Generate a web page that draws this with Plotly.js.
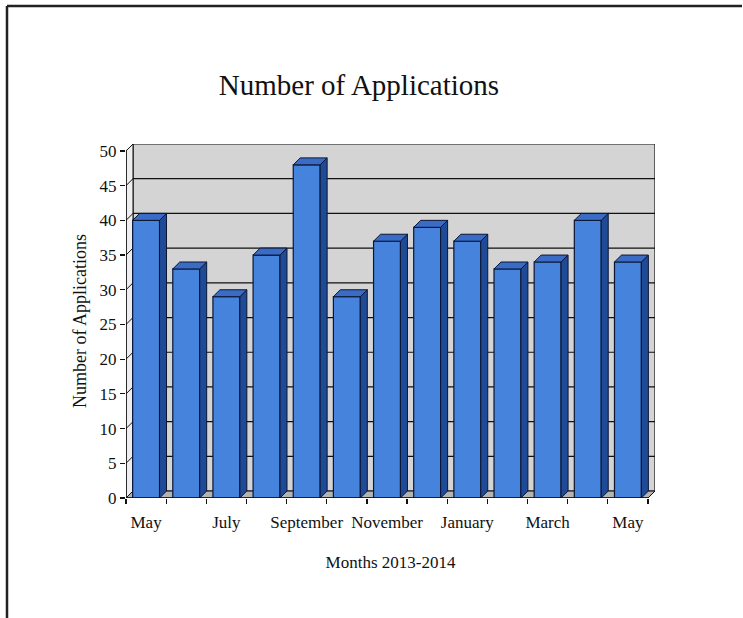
<!DOCTYPE html>
<html>
<head>
<meta charset="utf-8">
<script src="https://cdn.plot.ly/plotly-3.0.1.min.js"></script>
<style>html,body{margin:0;padding:0;background:#fff;}#chart{width:743px;height:618px;}</style>
</head>
<body>
<div id="chart"></div>
<script>
// ---- data ----
const months = ['May','June','July','August','September','October','November','December','January','February','March','April','May'];
const applications = [40, 33, 29, 35, 48, 29, 37, 39, 37, 33, 34, 40, 34];
const tickLabels = ['May','July','September','November','January','March','May'];
const tickIndex = [0, 2, 4, 6, 8, 10, 12];
const yTicks = [0, 5, 10, 15, 20, 25, 30, 35, 40, 45, 50];

// ---- geometry of the pseudo-3D look ----
const W = 743, H = 618;
const M = {l: 126, r: 88, t: 144, b: 120};
const n = months.length;
const yMax = 50;
const pxX = (W - M.l - M.r);
const depthPx = 7;
const dy = 1.0;                         // depth in y units
const xs = months.map((_, i) => i);
const barW = 0.67;
const xLo = -0.5, xHi = n - 0.5;
const dx = depthPx * (xHi - xLo) / (pxX - depthPx);   // depth in x units
const yTop = yMax + dy;

const frontColor = '#4583dc';
const sideColor = '#1f4a96';
const topColor = '#3a6cc6';
const edge = '#0b1633';
const wallColor = '#d4d4d4';

function poly(pts){ return 'M ' + pts.map(p => p[0] + ',' + p[1]).join(' L ') + ' Z'; }

const shapes = [];
// back wall
shapes.push({type:'path', layer:'below', xref:'x', yref:'y',
  path: poly([[xLo+dx, dy],[xHi+dx, dy],[xHi+dx, yTop],[xLo+dx, yTop]]),
  fillcolor: wallColor, line:{color:'#111', width:1.2}});
// left wall
shapes.push({type:'path', layer:'below', xref:'x', yref:'y',
  path: poly([[xLo, 0],[xLo+dx, dy],[xLo+dx, yTop],[xLo, yMax]]),
  fillcolor: '#eeeeee', line:{color:'#111', width:1}});
// floor
shapes.push({type:'path', layer:'below', xref:'x', yref:'y',
  path: poly([[xLo, 0],[xHi, 0],[xHi+dx, dy],[xLo+dx, dy]]),
  fillcolor: '#b4b4b4', line:{color:'#111', width:1}});
// gridlines on back and left walls
yTicks.filter(v => v > 0 && v < yMax).forEach(v => {
  shapes.push({type:'line', layer:'below', xref:'x', yref:'y',
    x0: xLo+dx, x1: xHi+dx, y0: v+dy, y1: v+dy, line:{color:'#111', width:1.2}});
  shapes.push({type:'line', layer:'below', xref:'x', yref:'y',
    x0: xLo, x1: xLo+dx, y0: v, y1: v+dy, line:{color:'#111', width:1}});
});
// side and top faces of the bars
xs.forEach((x, i) => {
  const v = applications[i];
  const a = x - barW/2, b = x + barW/2;
  shapes.push({type:'path', layer:'above', xref:'x', yref:'y',
    path: poly([[b, 0],[b+dx, dy],[b+dx, v+dy],[b, v]]),
    fillcolor: sideColor, line:{color:edge, width:1}});
  shapes.push({type:'path', layer:'above', xref:'x', yref:'y',
    path: poly([[a, v],[b, v],[b+dx, v+dy],[a+dx, v+dy]]),
    fillcolor: topColor, line:{color:edge, width:1}});
});
// axis lines
shapes.push({type:'line', layer:'above', xref:'x', yref:'y',
  x0: xLo, x1: xLo, y0: 0, y1: yMax, line:{color:'#111', width:1.5}});
shapes.push({type:'line', layer:'above', xref:'x', yref:'y',
  x0: xLo, x1: xHi, y0: 0, y1: 0, line:{color:'#111', width:1.5}});

// page frame (top and left edges of a scanned box)
const plotH = H - M.t - M.b;
const px2paperX = p => (p - M.l) / pxX;
const px2paperY = p => (H - M.b - p) / plotH;
shapes.push({type:'line', xref:'paper', yref:'paper',
  x0: px2paperX(7), x1: px2paperX(W - 1), y0: px2paperY(6), y1: px2paperY(6), line:{color:'#222', width:2.5}});
shapes.push({type:'line', xref:'paper', yref:'paper',
  x0: px2paperX(7), x1: px2paperX(7), y0: px2paperY(6), y1: px2paperY(H), line:{color:'#222', width:2.5}});

const serif = 'Liberation Serif, Times New Roman, serif';

const trace = {
  type: 'bar', x: xs, y: applications, width: barW,
  marker: {color: frontColor, line: {color: edge, width: 1.2}},
  hoverinfo: 'skip', showlegend: false
};

const layout = {
  width: W, height: H,
  margin: M,
  paper_bgcolor: '#ffffff', plot_bgcolor: 'rgba(0,0,0,0)',
  font: {family: serif, color: '#111', size: 17},
  title: {text: 'Number of Applications', font: {family: serif, size: 29, color: '#111'},
          x: 359/W, xanchor: 'center', xref: 'container', y: 1 - 85/H, yanchor: 'middle', yref: 'container'},
  xaxis: {
    range: [xLo, xHi + dx], showgrid: false, zeroline: false, showline: false,
    tickmode: 'array', tickvals: tickIndex, ticktext: tickLabels, ticks: '',
    ticklabelstandoff: 12,
    tickfont: {family: serif, size: 17, color: '#111'},
    minor: {tickmode: 'array', tickvals: xs.map(x => x - 0.5).concat([xHi]), ticks: 'outside', ticklen: 5, tickcolor: '#111', tickwidth: 1.2, showgrid: false},
    title: {text: 'Months 2013-2014', font: {family: serif, size: 17, color: '#111'}, standoff: 25},
    fixedrange: true
  },
  yaxis: {
    range: [0, yTop], showgrid: false, zeroline: false, showline: false,
    tickmode: 'array', tickvals: yTicks, ticks: 'outside', ticklen: 5, tickcolor: '#111', tickwidth: 1.2,
    tickfont: {family: serif, size: 17, color: '#111'},
    title: {text: 'Number of Applications', font: {family: serif, size: 18, color: '#111'}, standoff: 8},
    fixedrange: true
  },
  shapes: shapes,
  bargap: 0
};

Plotly.newPlot('chart', [trace], layout, {staticPlot: true, displayModeBar: false});
</script>
</body>
</html>
